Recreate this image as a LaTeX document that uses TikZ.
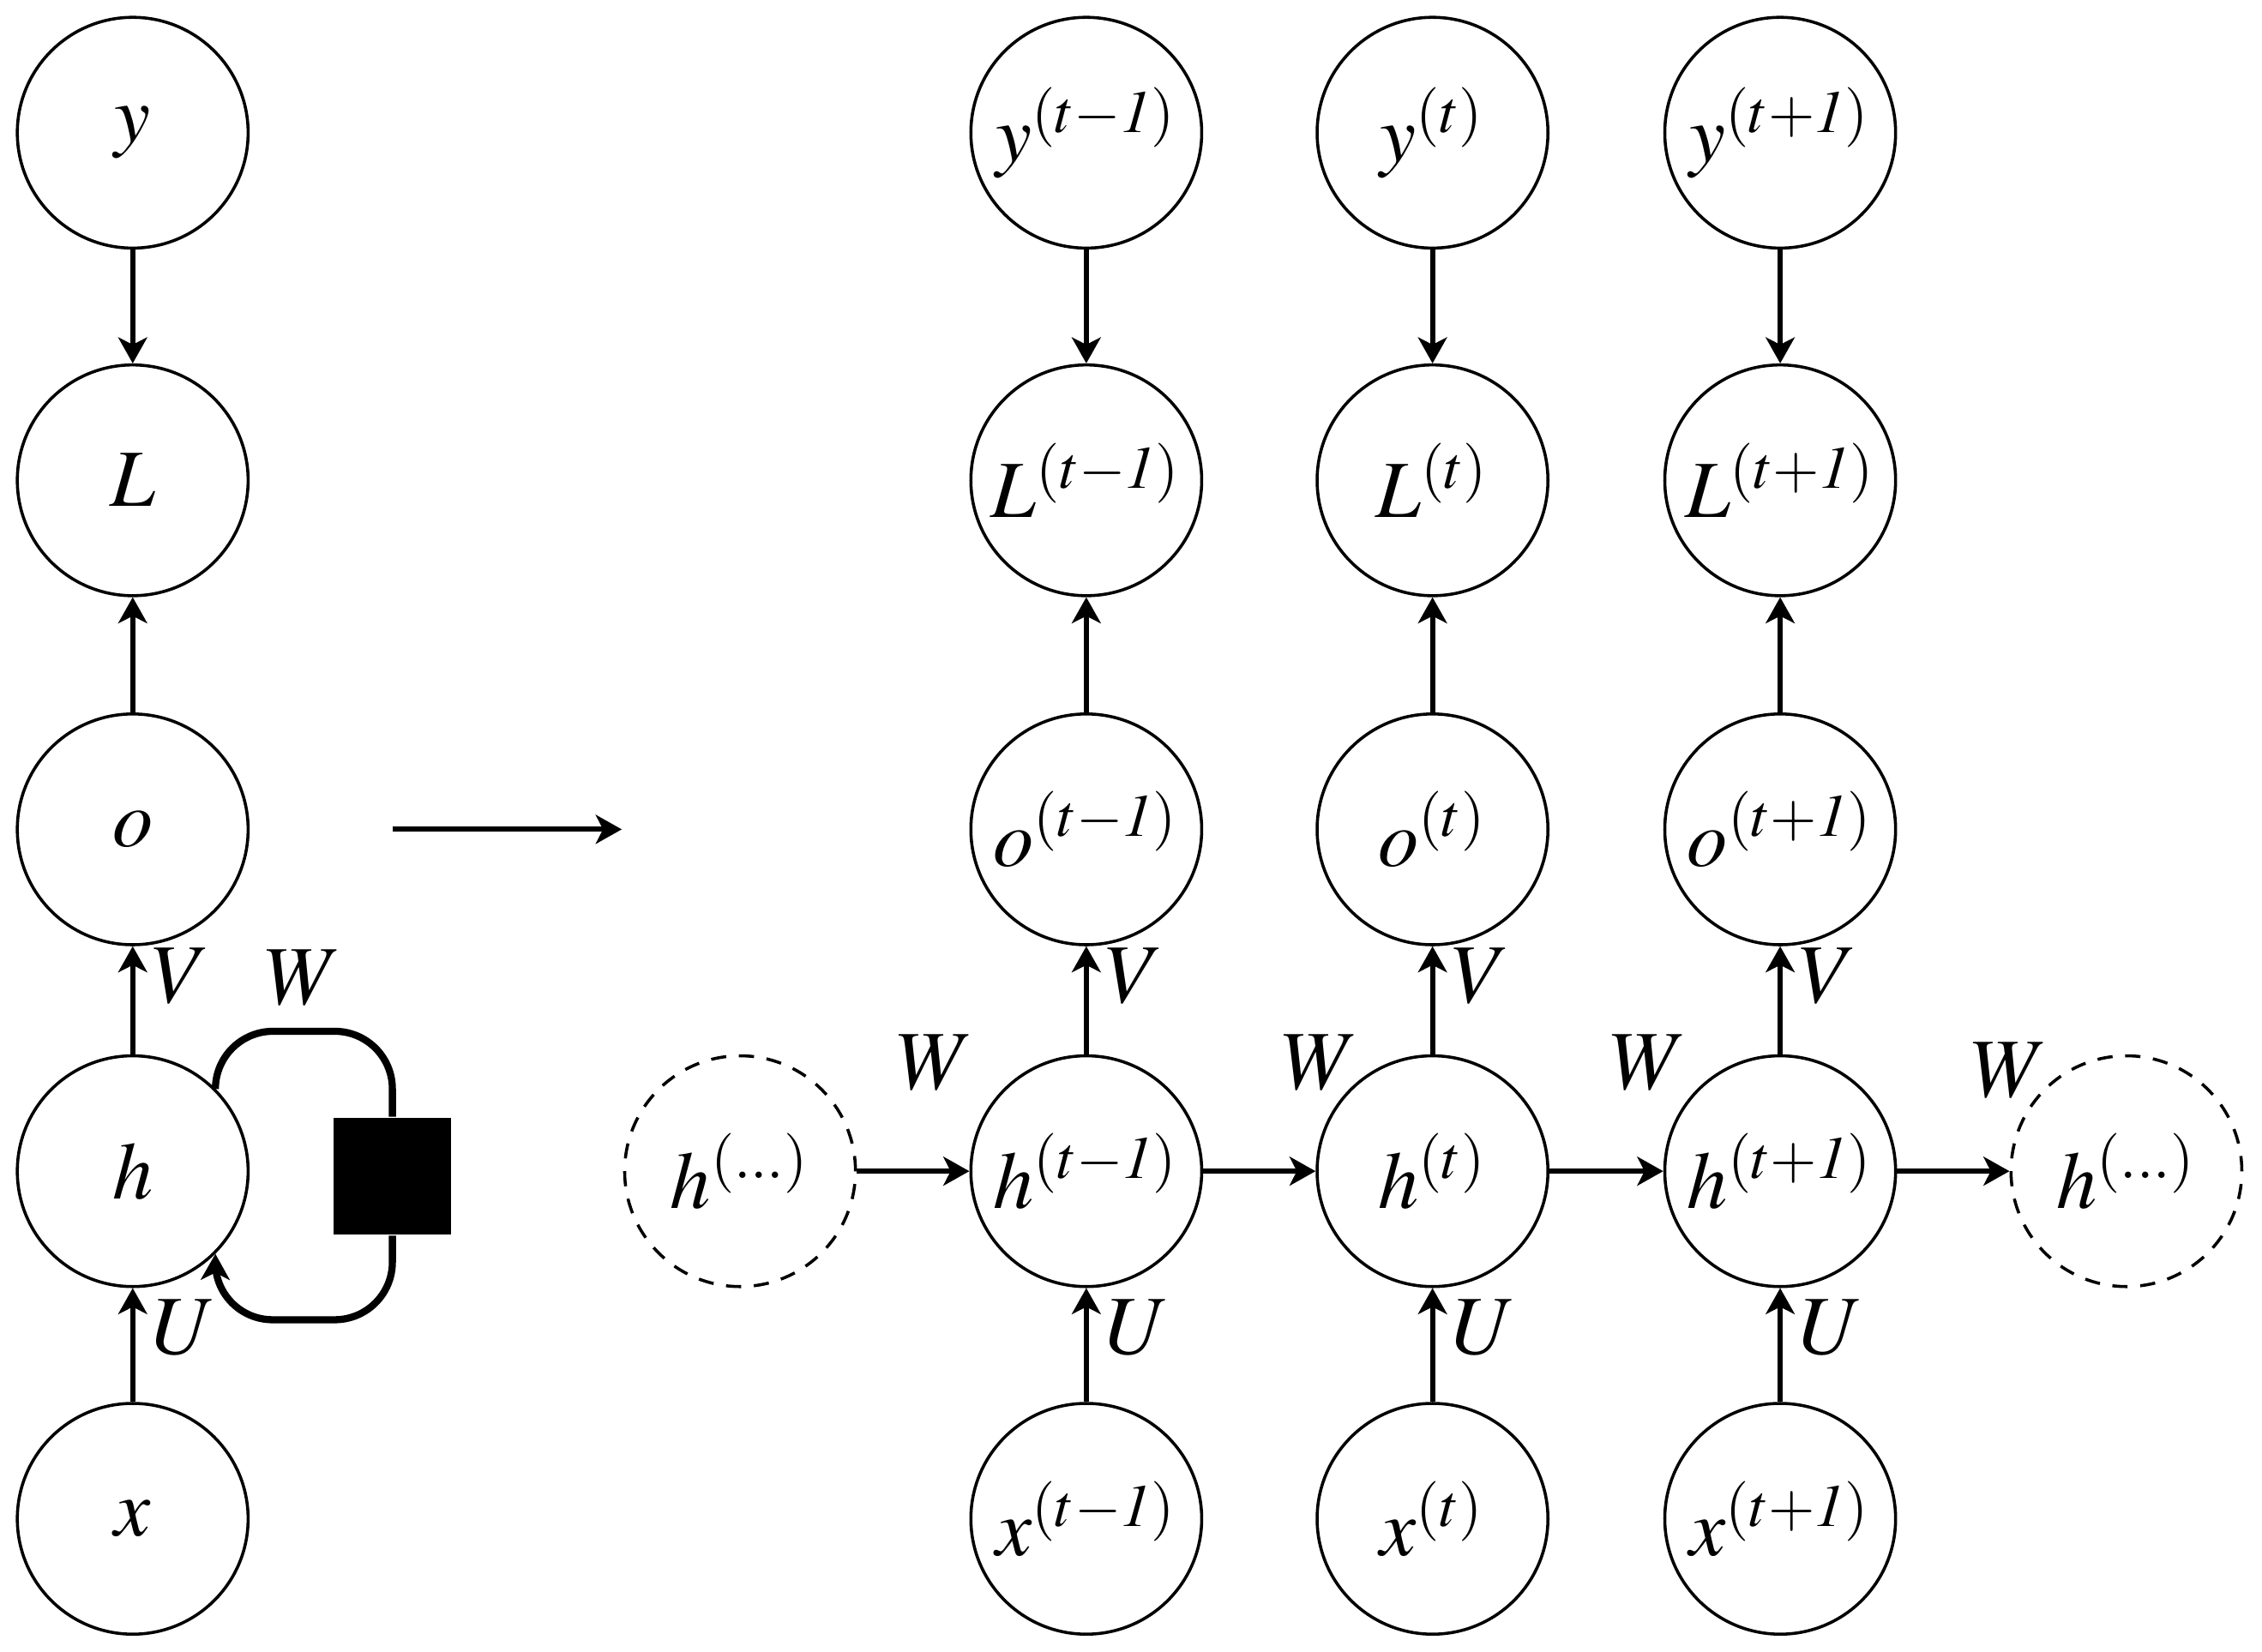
\documentclass[tikz,border=0pt]{standalone}
\usepackage{mathptmx}
\usetikzlibrary{arrows.meta}
\tikzset{
  unit/.style={circle, draw, line width=0.6pt, minimum size=1.6cm, inner sep=0pt,
    font=\fontsize{16}{19}\selectfont},
  ghost/.style={unit, dash pattern=on 3pt off 2.5pt},
  flow/.style={-{Stealth[length=1.8mm, width=2mm, inset=0.5mm]}, line width=1pt},
  loop/.style={line width=1.4pt, rounded corners=0.4cm},
  wlabel/.style={font=\fontsize{16.5}{19}\selectfont},
}
\newcommand{\tstep}[2]{$#1^{(#2)}$}
\begin{document}
\begin{tikzpicture}
    \useasboundingbox (0, 0) rectangle (15.68, -11.45);
    % folded network
    \node[unit] (y) at (0.92, -0.92) {$y$};
    \node[unit] (L) at (0.92, -3.33) {$L$};
    \node[unit] (o) at (0.92, -5.75) {$o$};
    \node[unit] (h) at (0.92, -8.12) {$h$};
    \node[unit] (x) at (0.92, -10.53) {$x$};
    \node[fill, minimum width=0.81cm, minimum height=0.81cm, inner sep=0pt] (delay) at (2.72, -8.155) {};
    \draw[flow] (y) -- (L);
    \draw[flow] (o) -- (L);
    \draw[flow] (h) -- node[wlabel, right, pos=0.72] {$V$} (o);
    \draw[flow] (x) -- node[wlabel, right, pos=0.65] {$U$} (h);
    \draw[loop] (h.45) |- (2.72, -7.15) -- (delay.north);
    \draw[loop, -{Stealth[length=1.8mm, width=2mm, inset=0.5mm]}] (delay.south) |- (1.49, -9.15) -- (h.-45);
    \node[wlabel] (wfold) at (2.10, -6.78) {$W$};
    % unfold
    \coordinate (ua) at (2.72, -5.75);
    \coordinate (ub) at (4.31, -5.75);
    \draw[flow] (ua) -- (ub);
    % unfolded network
    \node[unit] (y1) at (7.53, -0.92) {\tstep{y}{t{-}\mathit{1}}};
    \node[unit] (y2) at (9.93, -0.92) {\tstep{y}{t}};
    \node[unit] (y3) at (12.34, -0.92) {\tstep{y}{t{+}\mathit{1}}};
    \node[unit] (L1) at (7.53, -3.33) {\tstep{L}{t{-}\mathit{1}}};
    \node[unit] (L2) at (9.93, -3.33) {\tstep{L}{t}};
    \node[unit] (L3) at (12.34, -3.33) {\tstep{L}{t{+}\mathit{1}}};
    \node[unit] (o1) at (7.53, -5.75) {\tstep{o}{t{-}\mathit{1}}};
    \node[unit] (o2) at (9.93, -5.75) {\tstep{o}{t}};
    \node[unit] (o3) at (12.34, -5.75) {\tstep{o}{t{+}\mathit{1}}};
    \node[ghost] (h0) at (5.13, -8.12) {\tstep{h}{\ldots}};
    \node[unit] (h1) at (7.53, -8.12) {\tstep{h}{t{-}\mathit{1}}};
    \node[unit] (h2) at (9.93, -8.12) {\tstep{h}{t}};
    \node[unit] (h3) at (12.34, -8.12) {\tstep{h}{t{+}\mathit{1}}};
    \node[ghost] (h4) at (14.74, -8.12) {\tstep{h}{\ldots}};
    \node[unit] (x1) at (7.53, -10.53) {\tstep{x}{t{-}\mathit{1}}};
    \node[unit] (x2) at (9.93, -10.53) {\tstep{x}{t}};
    \node[unit] (x3) at (12.34, -10.53) {\tstep{x}{t{+}\mathit{1}}};
    \draw[flow] (y1) -- (L1);
    \draw[flow] (y2) -- (L2);
    \draw[flow] (y3) -- (L3);
    \draw[flow] (o1) -- (L1);
    \draw[flow] (o2) -- (L2);
    \draw[flow] (o3) -- (L3);
    \draw[flow] (h1) -- node[wlabel, right, pos=0.72] {$V$} (o1);
    \draw[flow] (h2) -- node[wlabel, right, pos=0.72] {$V$} (o2);
    \draw[flow] (h3) -- node[wlabel, right, pos=0.72] {$V$} (o3);
    \draw[flow] (x1) -- node[wlabel, right, pos=0.65] {$U$} (h1);
    \draw[flow] (x2) -- node[wlabel, right, pos=0.65] {$U$} (h2);
    \draw[flow] (x3) -- node[wlabel, right, pos=0.65] {$U$} (h3);
    \draw[flow] (h0) -- (h1);
    \draw[flow] (h1) -- (h2);
    \draw[flow] (h2) -- (h3);
    \draw[flow] (h3) -- (h4);
    \node[wlabel] (w1) at (6.48, -7.37) {$W$};
    \node[wlabel] (w2) at (9.15, -7.37) {$W$};
    \node[wlabel] (w3) at (11.43, -7.37) {$W$};
    \node[wlabel] (w4) at (13.93, -7.42) {$W$};
  \end{tikzpicture}
\end{document}
